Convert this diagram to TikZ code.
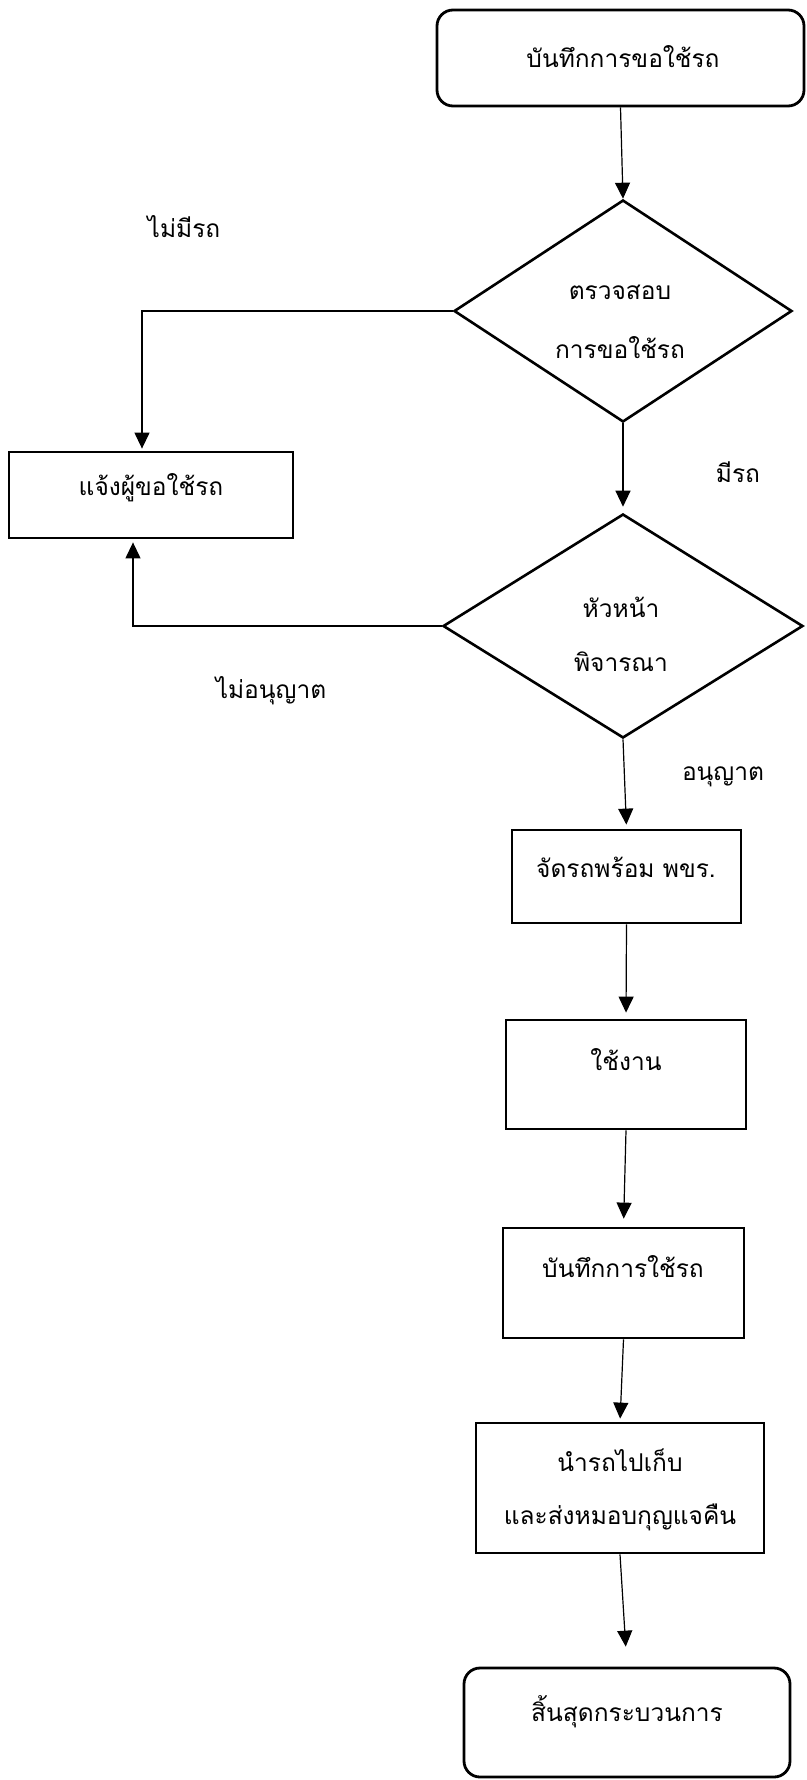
\documentclass[tikz,border=0pt]{standalone}
\usepackage{fontspec}
\newfontfamily\thai[Script=Thai]{Loma}
\usetikzlibrary{arrows.meta,shapes.geometric}
\tikzset{
  boxsty/.style={draw, line width=2.8pt, rectangle, inner sep=0pt},
  roundsty/.style={boxsty, rounded corners=16pt},
  decsty/.style={draw, line width=2.6pt, diamond, inner sep=0pt},
  txt/.style={font=\thai\fontsize{24.5}{28}\selectfont, inner sep=0pt, anchor=center},
  conn/.style={line width=1.2pt, -{Triangle[width=15pt,length=16pt]}}
}
\begin{document}
\begin{tikzpicture}[x=1pt,y=-1pt]
\useasboundingbox (0,0) rectangle (806,1780);
% shapes
\node[roundsty, minimum width=367pt, minimum height=96pt] (start) at (620.5,58) {};
\node[decsty, minimum width=338pt, minimum height=222pt] (d1) at (623,311) {};
\node[boxsty, minimum width=284pt, minimum height=86pt] (nbox) at (151,495) {};
\node[decsty, minimum width=360pt, minimum height=224pt] (d2) at (623,626) {};
\node[boxsty, minimum width=229pt, minimum height=93pt] (b1) at (626.5,876.5) {};
\node[boxsty, minimum width=240pt, minimum height=109pt] (b2) at (626,1074.5) {};
\node[boxsty, minimum width=241pt, minimum height=110pt] (b3) at (623.5,1283) {};
\node[boxsty, minimum width=288pt, minimum height=130pt] (b4) at (620,1488) {};
\node[roundsty, minimum width=326pt, minimum height=109pt] (end) at (627,1722.5) {};
% texts
\node[txt] (tstart) at (623,57) {บันทึกการขอใช้รถ};
\node[txt] (td1a) at (620,292) {ตรวจสอบ};
\node[txt] (td1b) at (620,348) {การขอใช้รถ};
\node[txt] (lnocar) at (184,227) {ไม่มีรถ};
\node[txt] (tnbox) at (151,488) {แจ้งผู้ขอใช้รถ};
\node[txt] (lcar) at (738,472) {มีรถ};
\node[txt] (td2a) at (621,607) {หัวหน้า};
\node[txt] (td2b) at (621,662) {พิจารณา};
\node[txt] (lnoperm) at (271,691) {ไม่อนุญาต};
\node[txt] (lperm) at (723,777) {อนุญาต};
\node[txt] (tb1) at (626,867) {จัดรถพร้อม พขร.};
\node[txt] (tb2) at (626,1060) {ใช้งาน};
\node[txt] (tb3) at (623,1267) {บันทึกการใช้รถ};
\node[txt] (tb4a) at (620,1460) {นำรถไปเก็บ};
\node[txt] (tb4b) at (620,1517) {และส่งหมอบกุญแจคืน};
\node[txt] (tend) at (627,1712) {สิ้นสุดกระบวนการ};
% connectors
\draw[conn] (start.south) -- (d1.north);
\draw[conn, shorten >=2pt] (d1.west) -| ([xshift=-9pt]nbox.north);
\draw[conn, shorten >=6pt] (d1.south) -- (d2.north);
\draw[conn, shorten >=3pt] (d2.west) -| ([xshift=-18pt]nbox.south);
\draw[conn, shorten >=4pt] (d2.south) -- (b1.north);
\draw[conn, shorten >=6pt] (b1.south) -- (b2.north);
\draw[conn, shorten >=8pt] (b2.south) -- (b3.north);
\draw[conn, shorten >=3pt] (b3.south) -- (b4.north);
\draw[conn, shorten >=20pt] (b4.south) -- (end.north);
\end{tikzpicture}
\end{document}
